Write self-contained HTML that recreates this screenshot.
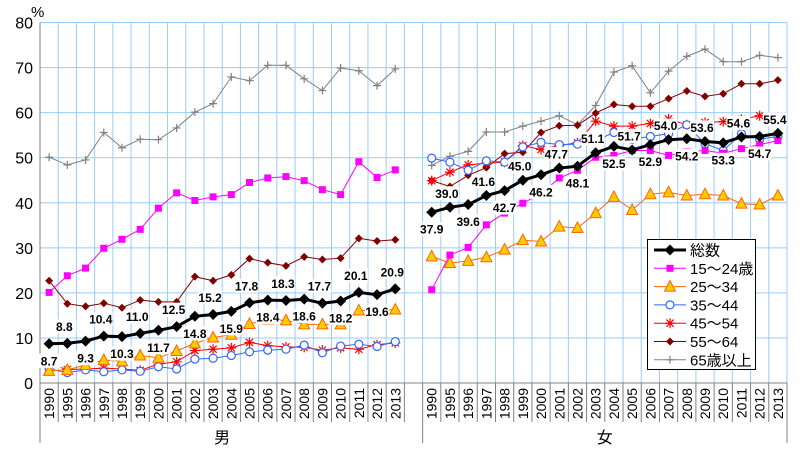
<!DOCTYPE html>
<html><head><meta charset="utf-8">
<style>
html,body{margin:0;padding:0;background:#fff;}
svg{display:block;font-family:"Liberation Sans","Noto Sans CJK JP",sans-serif;}
</style></head>
<body>
<svg id="chart" width="800" height="450" viewBox="0 0 800 450" xmlns="http://www.w3.org/2000/svg">
<g id="grid"></g>
<g id="axes"></g>
<g id="series"></g>
<g id="labels"></g>
<g id="legend"></g>
</svg>
<script>
const years = ["1990","1995","1996","1997","1998","1999","2000","2001","2002","2003","2004","2005","2006","2007","2008","2009","2010","2011","2012","2013"];
const groups = ["男","女"];
const yTicks = [0,10,20,30,40,50,60,70,80];
const seriesNames = ["総数","15～24歳","25～34","35～44","45～54","55～64","65歳以上"];
// male values
const mTotal = [8.7,8.8,9.3,10.4,10.3,11.0,11.7,12.5,14.8,15.2,15.9,17.8,18.4,18.3,18.6,17.7,18.2,20.1,19.6,20.9];
const m1524 = [20.1,23.8,25.5,29.9,31.9,34.1,38.8,42.2,40.5,41.3,41.8,44.5,45.5,45.8,44.9,42.9,41.8,49.1,45.6,47.3];
const m2534 = [2.7,2.9,4.0,5.1,4.8,6.1,5.6,7.1,8.8,10.1,10.7,13.1,14.1,13.9,13.0,13.0,13.0,16.1,16.0,16.3];
const m3544 = [3.1,2.3,2.9,2.5,2.9,2.6,3.6,3.1,5.3,5.5,6.1,6.9,7.3,7.5,8.4,6.7,8.2,8.6,8.1,9.2];
const m4554 = [4.2,3.0,3.1,3.3,3.1,2.8,4.2,4.7,7.2,7.5,7.8,9.0,8.3,8.0,7.9,7.3,7.8,7.5,8.5,8.9];
const m5564 = [22.7,17.6,17.0,17.7,16.7,18.4,18.0,18.0,23.6,22.7,24.0,27.6,26.7,26.0,28.0,27.4,27.7,32.1,31.5,31.8];
const m65 = [50.1,48.4,49.5,55.6,52.2,54.1,54.0,56.6,60.1,62.0,67.9,67.1,70.5,70.5,67.5,64.9,69.9,69.3,66.0,69.7];
// female values
const fTotal = [37.9,39.0,39.6,41.6,42.7,45.0,46.2,47.7,48.1,51.1,52.5,51.7,52.9,54.0,54.2,53.6,53.3,54.6,54.7,55.4];
const f1524 = [20.7,28.4,30.1,35.1,37.7,39.9,42.0,45.5,47.2,50.1,50.5,51.6,51.6,50.5,51.3,51.6,51.0,52.0,52.9,53.8];
const f2534 = [28.1,26.6,27.1,27.9,29.6,31.7,31.4,34.7,34.4,37.7,41.3,38.4,41.9,42.3,41.6,41.9,41.6,39.8,39.6,41.6];
const f3544 = [49.9,49.0,47.2,49.3,49.0,52.4,53.4,52.9,53.0,53.8,55.6,54.1,54.7,55.3,57.3,53.1,51.6,55.3,54.1,54.7];
const f4554 = [44.9,46.8,48.4,48.8,49.0,52.7,51.8,52.7,53.3,58.1,57.0,57.0,57.6,58.6,57.3,57.8,58.0,58.5,59.3,59.0];
const f5564 = [44.9,43.6,46.1,47.8,50.9,51.2,55.6,57.1,57.2,59.9,61.8,61.4,61.4,63.1,64.8,63.6,64.2,66.4,66.4,67.2];
const f65 = [48.3,50.3,51.4,55.7,55.7,57.0,58.1,59.3,57.3,61.6,69.0,70.4,64.4,69.2,72.5,74.1,71.3,71.3,72.7,72.2];

const NS="http://www.w3.org/2000/svg";
const X0=40, X1=787, Y0=383, Ytop=22.5, NCOL=41, VMAX=80;
const colW=(X1-X0)/NCOL;
function xPos(g,i){ return X0 + (g*21 + i + 0.5)*colW; }
function yPos(v){ return Y0 - v/VMAX*(Y0-Ytop); }
function mk(tag,attrs,parent){ const e=document.createElementNS(NS,tag); for(const k in attrs) e.setAttribute(k,attrs[k]); parent.appendChild(e); return e; }
const grid=document.getElementById('grid'), axes=document.getElementById('axes'), ser=document.getElementById('series'), lab=document.getElementById('labels'), leg=document.getElementById('legend');

// grid
yTicks.forEach(t=>{
  if(t>0){ const l=mk('line',{x1:X0,x2:X1,y1:yPos(t),y2:yPos(t),stroke:'#99CCFF','stroke-width':1},grid);
  
   }
  const tx=mk('text',{x:33,y:yPos(t)+6,'text-anchor':'end','font-size':16,fill:'#000'},axes);
  tx.textContent=t;
  
  
});
for(let c=1;c<=NCOL;c++){
  const x=X0+c*colW;
  const l=mk('line',{x1:x,x2:x,y1:Ytop,y2:Y0,stroke:'#99CCFF','stroke-width':1},grid);
  
  
  const long=(c===21||c===NCOL);
  const tk=mk('line',{x1:x,x2:x,y1:Y0,y2:long?443:422,stroke:'#808080','stroke-width':1},axes);
  
  
}
const ya=mk('line',{x1:X0,x2:X0,y1:Ytop,y2:443,stroke:'#808080','stroke-width':1},axes);


const xa=mk('line',{x1:X0,x2:X1,y1:Y0,y2:Y0,stroke:'#808080','stroke-width':1},axes);


const pct=mk('text',{x:31,y:17,'font-size':15,fill:'#000'},axes);
pct.textContent='%';



[0,1].forEach(g=>{
  years.forEach((y,i)=>{
    const x=xPos(g,i);
    const t=mk('text',{x:0,y:0,'font-size':14,fill:'#000',transform:`translate(${x+5},388) rotate(-90)`,'text-anchor':'end'},axes);
    t.textContent=y;
    
    
  });
  const gx=(xPos(g,0)+xPos(g,19))/2;
  const gt=mk('text',{x:gx,y:443,'font-size':16,'text-anchor':'middle',fill:'#000'},axes);
  gt.textContent=groups[g];
  
  
});

// markers
function marker(type,x,y,color,parent){
  let e;
  if(type==='diamond'){ e=mk('polygon',{points:`${x},${y-5.5} ${x+5.5},${y} ${x},${y+5.5} ${x-5.5},${y}`,fill:'#000'},parent); }
  else if(type==='square'){ e=mk('rect',{x:x-3.5,y:y-3.5,width:7,height:7,fill:'#FF00FF'},parent); }
  else if(type==='triangle'){ e=mk('polygon',{points:`${x},${y-6} ${x+5.5},${y+4.5} ${x-5.5},${y+4.5}`,fill:'#FFCC00',stroke:'#FF6600','stroke-width':1},parent); }
  else if(type==='circle'){ e=mk('circle',{cx:x,cy:y,r:4,fill:'#fff',stroke:'#3366FF','stroke-width':1.2},parent); }
  else if(type==='star'){ e=mk('path',{d:`M${x-5},${y}H${x+5}M${x},${y-5}V${y+5}M${x-3.6},${y-3.6}L${x+3.6},${y+3.6}M${x-3.6},${y+3.6}L${x+3.6},${y-3.6}`,stroke:'#FF0000','stroke-width':1.2,fill:'none'},parent); }
  else if(type==='sdiamond'){ e=mk('polygon',{points:`${x},${y-4} ${x+4},${y} ${x},${y+4} ${x-4},${y}`,fill:'#800000'},parent); }
  else { e=mk('path',{d:`M${x-4},${y}H${x+4}M${x},${y-4}V${y+4}`,stroke:'#808080','stroke-width':1.2},parent); }
  
  
}
const specs=[
  {name:'65',m:m65,f:f65,color:'#808080',w:1,mk:'plus'},
  {name:'55-64',m:m5564,f:f5564,color:'#800000',w:1,mk:'sdiamond'},
  {name:'45-54',m:m4554,f:f4554,color:'#FF0000',w:1,mk:'star'},
  {name:'35-44',m:m3544,f:f3544,color:'#3366FF',w:1,mk:'circle'},
  {name:'25-34',m:m2534,f:f2534,color:'#FF6600',w:1,mk:'triangle'},
  {name:'15-24',m:m1524,f:f1524,color:'#FF00FF',w:1,mk:'square'},
  {name:'total',m:mTotal,f:fTotal,color:'#000',w:3,mk:'diamond'}
];
specs.forEach(s=>{
  const g=mk('g',{},ser);
  
  
  [s.m,s.f].forEach((arr,gi)=>{
    const pts=arr.map((v,i)=>`${xPos(gi,i).toFixed(1)},${yPos(v).toFixed(1)}`).join(' ');
    const pl=mk('polyline',{points:pts,fill:'none',stroke:s.color,'stroke-width':s.w},g);
    
    
    arr.forEach((v,i)=>marker(s.mk,xPos(gi,i),yPos(v),s.color,g));
  });
});
// data labels for total
[mTotal,fTotal].forEach((arr,gi)=>{
  arr.forEach((v,i)=>{
    const x=xPos(gi,i)-(i%2?3:0);
    const y=yPos(v)+(i%2? (gi?-14:-17) : 17);
    const txt=v.toFixed(1);
    const bg=mk('rect',{x:x-12,y:y-7,width:24,height:14,fill:'#fff'},lab);
    
    
    const t=mk('text',{x:x,y:y+4.5,'text-anchor':'middle','font-size':12,'font-weight':'bold',fill:'#000'},lab);
    t.textContent=txt;
    
    
  });
});
// legend
const lb=mk('rect',{x:647.5,y:239.5,width:108,height:130,fill:'#fff',stroke:'#000','stroke-width':1},leg);


const legSpecs=specs.slice().reverse();
legSpecs.forEach((s,k)=>{
  const y=250+k*18.3;
  const g=mk('g',{},leg);
  
  
  const l=mk('line',{x1:654,x2:686,y1:y,y2:y,stroke:s.color,'stroke-width':s.w},g);
  
  
  marker(s.mk,670,y,s.color,g);
  const t=mk('text',{x:690,y:y+5.5,'font-size':15,fill:'#000'},g);
  t.textContent=seriesNames[k];
  
  
});
</script>
</body></html>
